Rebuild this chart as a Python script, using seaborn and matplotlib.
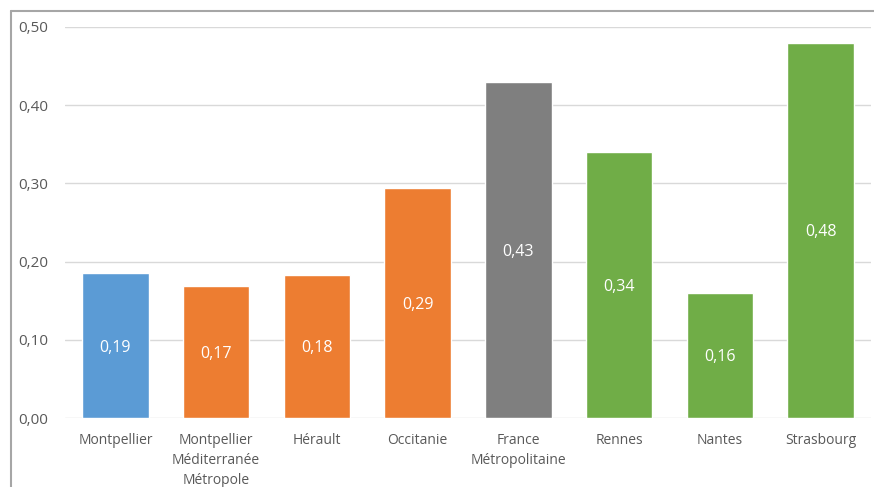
import matplotlib
matplotlib.use("Agg")
import matplotlib.pyplot as plt
import seaborn as sns
import pandas as pd
from matplotlib.lines import Line2D

categories = ["Montpellier", "Montpellier\nMéditerranée\nMétropole", "Hérault", "Occitanie",
              "France\nMétropolitaine", "Rennes", "Nantes", "Strasbourg"]
values = [0.185, 0.169, 0.183, 0.294, 0.430, 0.340, 0.160, 0.480]
labels = ["0,19", "0,17", "0,18", "0,29", "0,43", "0,34", "0,16", "0,48"]
colors = ["#5B9BD5", "#ED7D31", "#ED7D31", "#ED7D31", "#7F7F7F", "#70AD47", "#70AD47", "#70AD47"]
yticks = [0.0, 0.1, 0.2, 0.3, 0.4, 0.5]
ytick_labels = ["0,00", "0,10", "0,20", "0,30", "0,40", "0,50"]

sns.set_theme(style="white")
plt.rcParams['font.family'] = ['Open Sans', 'DejaVu Sans']

df = pd.DataFrame({"cat": categories, "val": values})

fig = plt.figure(figsize=(8.74, 4.87), dpi=100)
ax = fig.add_axes([65/874, 69/487, 806/874, 391/487])

sns.barplot(data=df, x="cat", y="val", hue="cat", palette=dict(zip(categories, colors)),
            width=0.66, legend=False, ax=ax, saturation=1)

ax.set_ylim(0, 0.5)
ax.set_xlim(-0.5, len(categories) - 0.5)
ax.set_yticks(yticks)
ax.set_yticklabels(ytick_labels, fontsize=11, color="#595959")
ax.tick_params(axis="x", labelsize=10, labelcolor="#595959", length=0, pad=10.5)
ax.tick_params(axis="y", length=0, pad=12)
for t in ax.get_xticklabels():
    t.set_linespacing(1.48)
ax.set_xlabel("")
ax.set_ylabel("")
ax.yaxis.grid(True, color="#D9D9D9", linewidth=1)
ax.set_axisbelow(True)
for s in ax.spines.values():
    s.set_visible(False)

for i, (v, lab) in enumerate(zip(values, labels)):
    ax.text(i, v / 2, lab, ha="center", va="center_baseline", color="white", fontsize=11.5)

# figure frame (cropped screenshot border)
fig.add_artist(Line2D([11/874, 11/874], [0, 1 - 11/487], transform=fig.transFigure,
                      color="#A6A6A6", linewidth=1.5))
fig.add_artist(Line2D([11/874, 1], [1 - 11/487, 1 - 11/487], transform=fig.transFigure,
                      color="#A6A6A6", linewidth=1.5))

fig.savefig("out.png", dpi=100)
